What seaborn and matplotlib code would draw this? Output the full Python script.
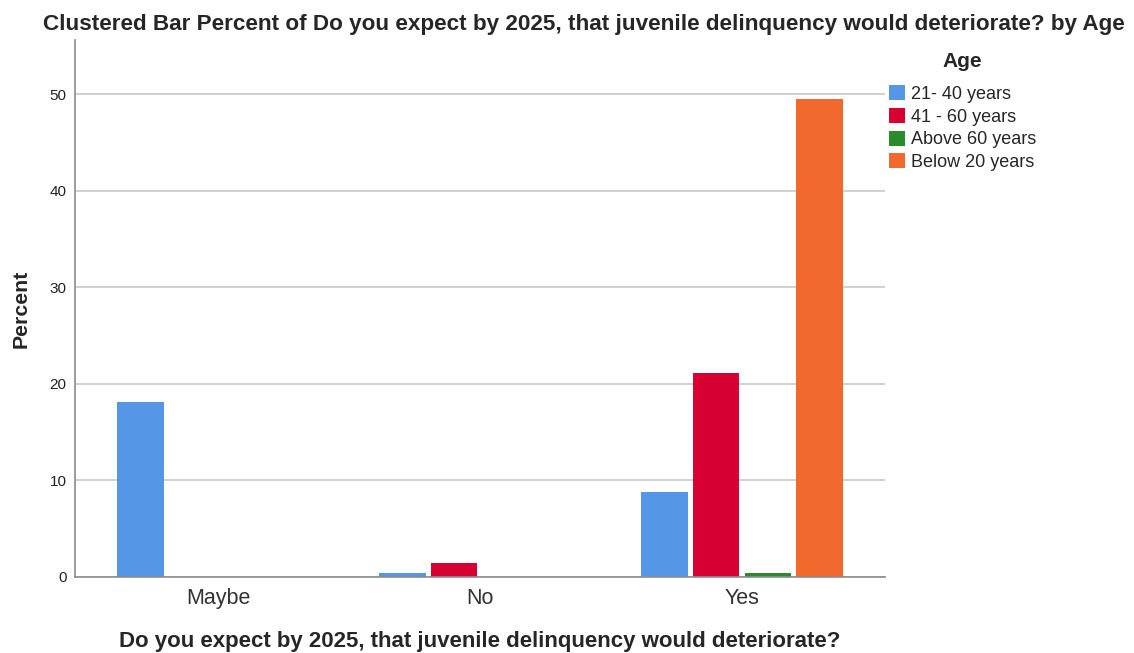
import pandas as pd
import matplotlib
matplotlib.use("Agg")
import matplotlib.pyplot as plt
import seaborn as sns

# ----------------------------
# DATA
# ----------------------------
answers = ["Maybe", "No", "Yes"]
age_groups = ["21- 40 years", "41 - 60 years", "Above 60 years", "Below 20 years"]

pct_21_40 = [18.1, 0.45, 8.75]
pct_41_60 = [0.0, 1.45, 21.1]
pct_above_60 = [0.0, 0.0, 0.4]
pct_below_20 = [0.0, 0.0, 49.5]

colors = ["#5596e6", "#d70032", "#2b8a2b", "#f1692d"]

title = "Clustered Bar Percent of Do you expect by 2025, that juvenile delinquency would deteriorate? by Age"
xlabel = "Do you expect by 2025, that juvenile delinquency would deteriorate?"
ylabel = "Percent"

# ----------------------------
# BUILD LONG TABLE
# ----------------------------
rows = []
for grp, vals in zip(age_groups, [pct_21_40, pct_41_60, pct_above_60, pct_below_20]):
    for ans, v in zip(answers, vals):
        rows.append({"answer": ans, "Age": grp, "percent": v})
df = pd.DataFrame(rows)

# ----------------------------
# PLOT
# ----------------------------
sns.set_style("white")
plt.rcParams["font.family"] = ["Liberation Sans", "DejaVu Sans"]

fig = plt.figure(figsize=(11.34, 6.53), dpi=100)
ax = fig.add_axes([0.0661, 0.1164, 0.7143, 0.8223])

sns.barplot(data=df, x="answer", y="percent", hue="Age",
            order=answers, hue_order=age_groups, palette=colors,
            width=0.79, gap=0.1, linewidth=0, saturation=1,
            errorbar=None, ax=ax)

ax.set_xlim(-0.546, 2.546)
ax.set_ylim(0, 55.6)
ax.set_yticks([0, 10, 20, 30, 40, 50])
ax.yaxis.grid(True, color="#c8c8c8", linewidth=1.2)
ax.set_axisbelow(True)

for side in ["top", "right"]:
    ax.spines[side].set_visible(False)
for side in ["left", "bottom"]:
    ax.spines[side].set_color("#8c8c8c")
    ax.spines[side].set_linewidth(1.2)

ax.tick_params(axis="y", length=0, pad=6, labelsize=11, labelcolor="#222222")
ax.tick_params(axis="x", length=0, pad=8, labelsize=15.5, labelcolor="#333333")

ax.set_xlabel(xlabel, fontsize=16, fontweight="bold", labelpad=16)
ax.set_ylabel(ylabel, fontsize=15.3, fontweight="bold", labelpad=14)

fig.suptitle(title, x=0.515, y=0.978, fontsize=16.2, fontweight="bold")

handles, labels = ax.get_legend_handles_labels()
ax.legend(handles, labels, title="Age", loc="upper left",
          bbox_to_anchor=(0.784, 0.92), bbox_transform=fig.transFigure,
          frameon=False, fontsize=13, title_fontproperties={"weight": "bold", "size": 15},
          handlelength=0.9, handleheight=0.9, handletextpad=0.3,
          labelspacing=0.28, borderaxespad=0, borderpad=0)
ax.get_legend()._legend_box.sep = 10

fig.savefig("out.png", dpi=100)
